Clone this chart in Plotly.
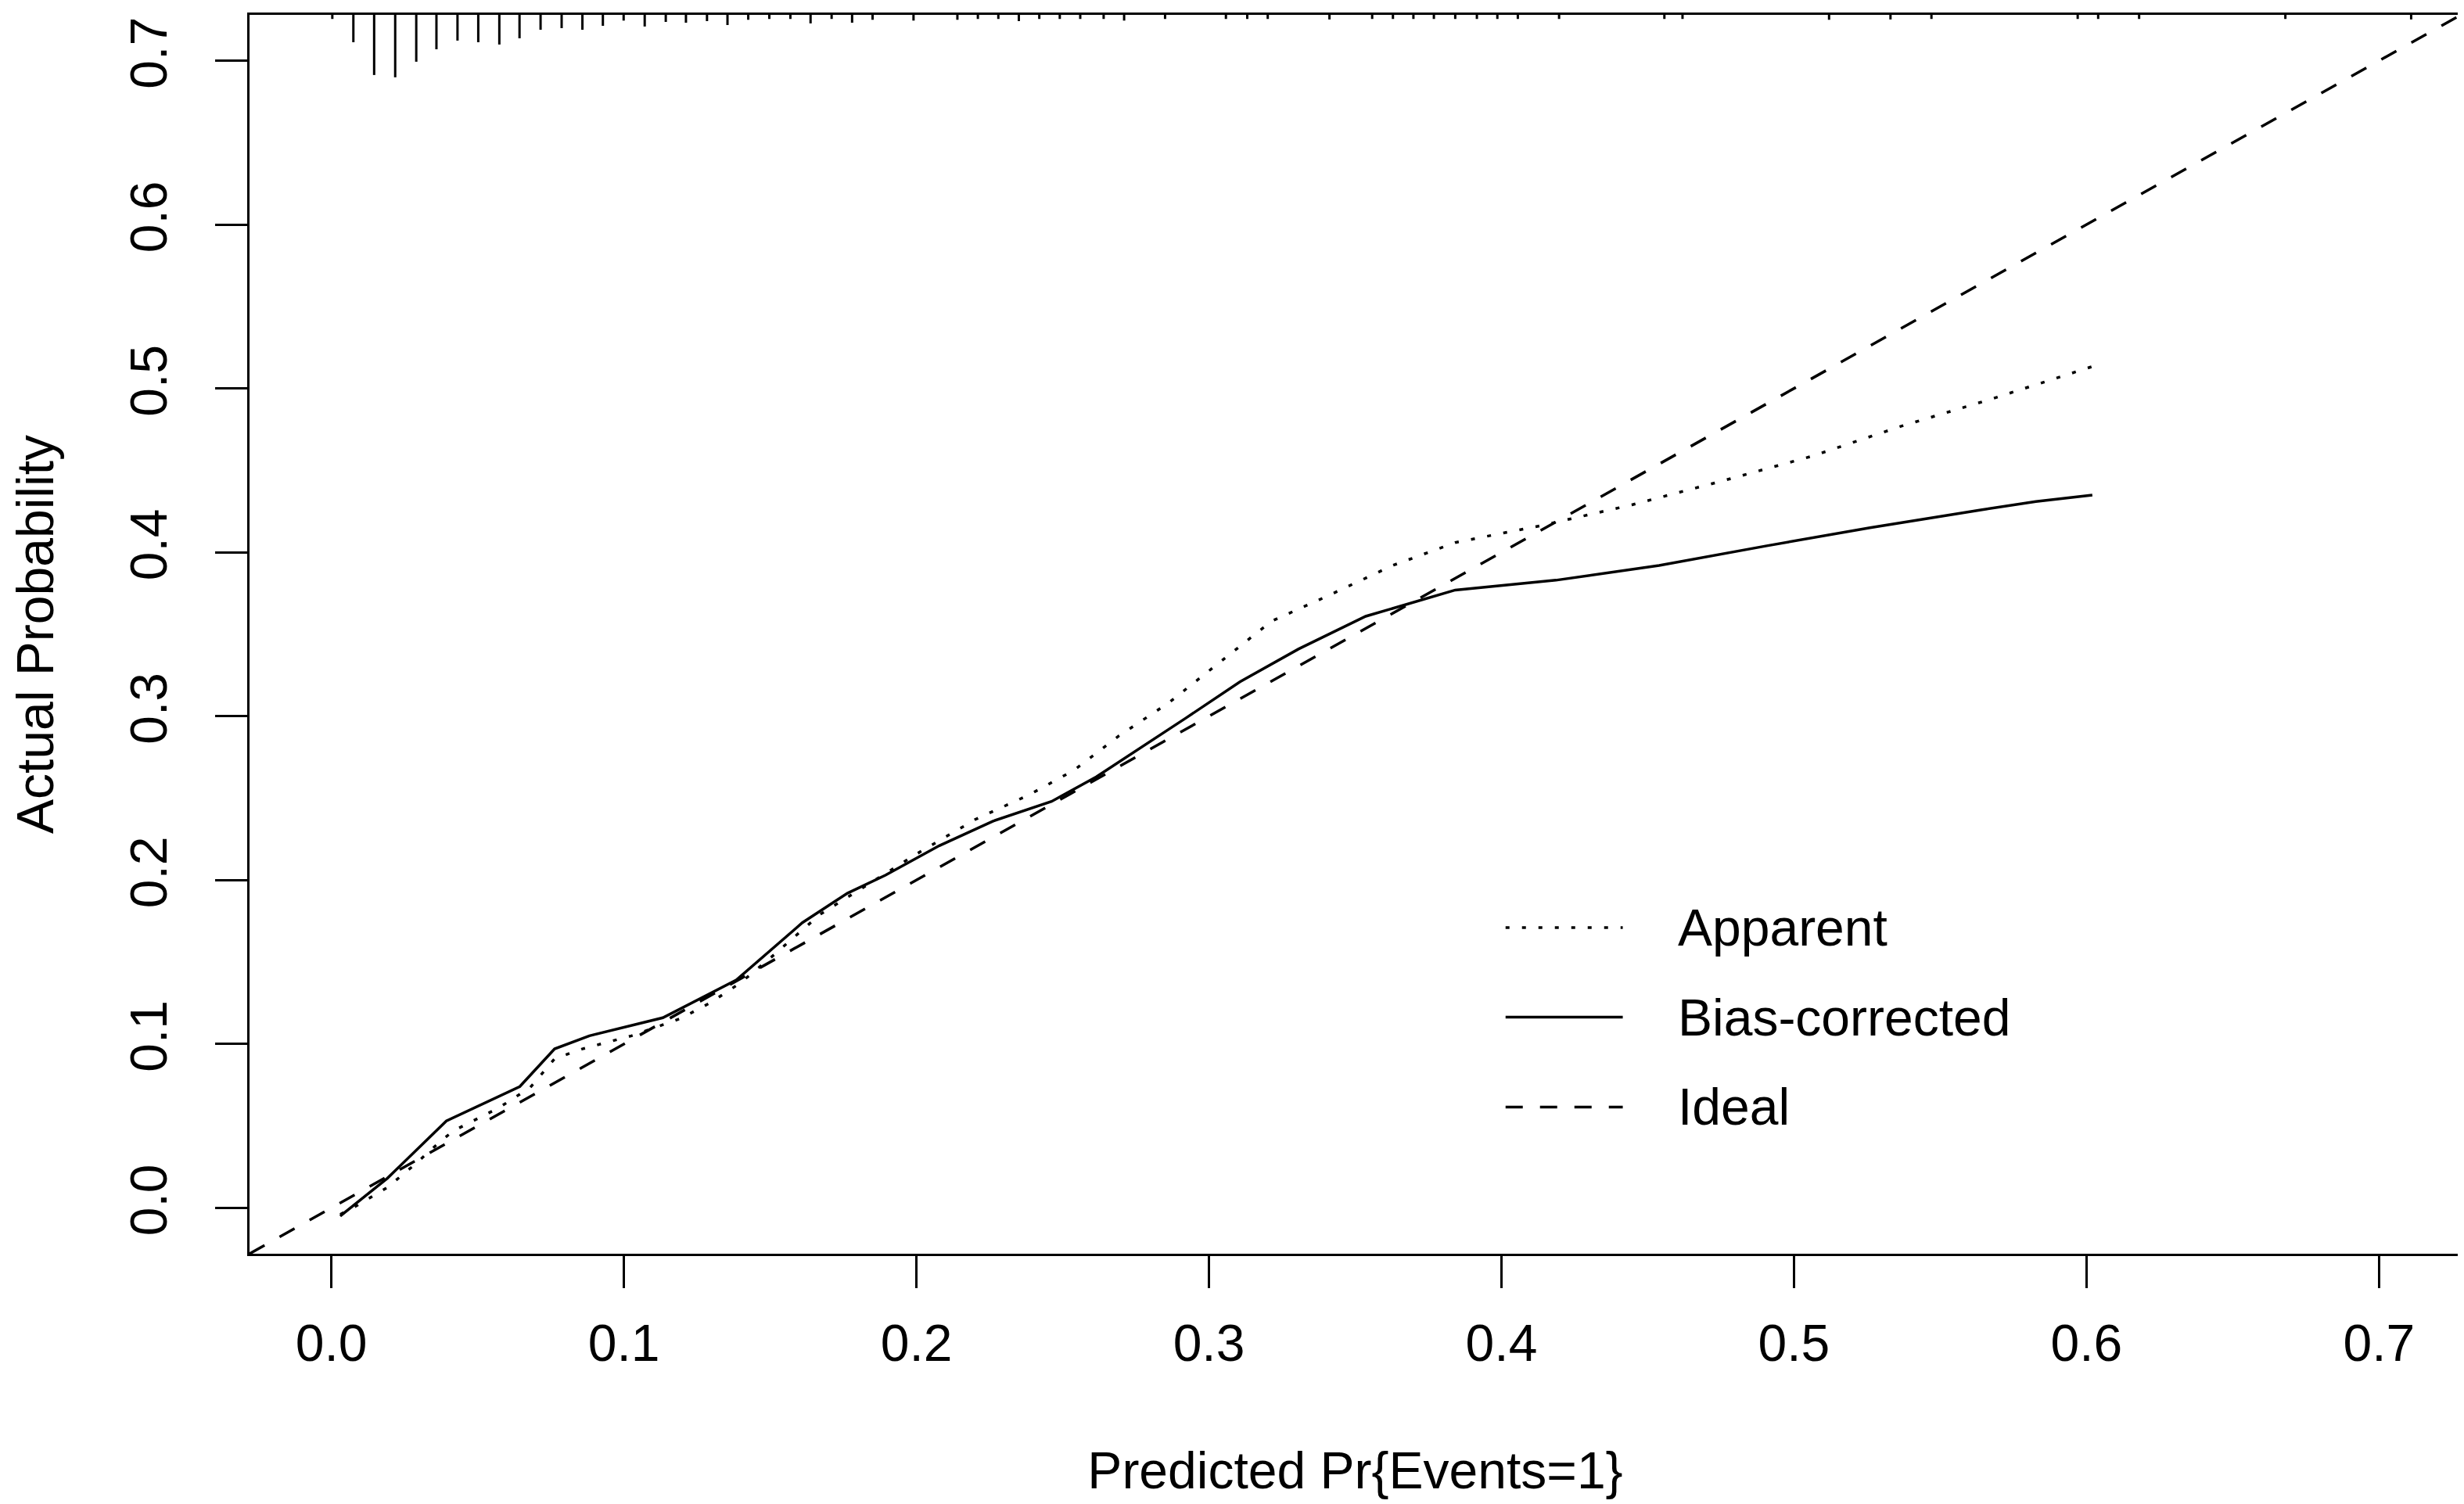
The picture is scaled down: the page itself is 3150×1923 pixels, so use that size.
import plotly.graph_objects as go

# ---------------- data ----------------
x_range = [-0.028, 0.728]
y_range = [-0.028, 0.728]
tick_vals = [0.0, 0.1, 0.2, 0.3, 0.4, 0.5, 0.6, 0.7]
tick_text = ["0.0", "0.1", "0.2", "0.3", "0.4", "0.5", "0.6", "0.7"]

apparent_x = [0.003, 0.0083, 0.0191, 0.0286, 0.0369, 0.0417, 0.0572, 0.068, 0.0763,
              0.0858, 0.1026, 0.1193, 0.1294, 0.1396, 0.1491, 0.1575, 0.167, 0.1894,
              0.2001, 0.2201, 0.2385, 0.2538, 0.2692, 0.2861, 0.303, 0.3214, 0.3413,
              0.3628, 0.3842, 0.414, 0.4446, 0.4753, 0.506, 0.5367, 0.5674, 0.602]
apparent_y = [-0.004, 0.001, 0.0124, 0.0266, 0.040, 0.047, 0.061, 0.0735, 0.091,
              0.097, 0.105, 0.1155, 0.125, 0.137, 0.151, 0.164, 0.179, 0.204,
              0.216, 0.237, 0.252, 0.267, 0.288, 0.308, 0.332, 0.358, 0.374,
              0.392, 0.406, 0.4165, 0.429, 0.4435, 0.4586, 0.477, 0.4935, 0.5134]

bias_x = [0.003, 0.0191, 0.0393, 0.0644, 0.0763, 0.0882, 0.1133, 0.1384, 0.161,
          0.1764, 0.1894, 0.2078, 0.2262, 0.2462, 0.2615, 0.2769, 0.2922, 0.3106,
          0.3306, 0.3536, 0.3689, 0.3842, 0.4186, 0.4539, 0.4907, 0.526, 0.5643,
          0.5827, 0.602]
bias_y = [-0.005, 0.018, 0.053, 0.074, 0.097, 0.105, 0.116, 0.139, 0.174,
          0.192, 0.203, 0.221, 0.236, 0.248, 0.263, 0.281, 0.299, 0.321,
          0.341, 0.361, 0.369, 0.377, 0.383, 0.392, 0.404, 0.415, 0.426,
          0.431, 0.435]

# distribution of predicted probabilities (spike positions and spike heights)
rug_x = [0.0003, 0.0075, 0.0146, 0.0218, 0.0290, 0.0359, 0.0431, 0.0502, 0.0574,
         0.0643, 0.0715, 0.0787, 0.0858, 0.0928, 0.0999, 0.1071, 0.1143, 0.1212,
         0.1284, 0.1354, 0.1425, 0.1497, 0.1569, 0.1638, 0.171, 0.178, 0.185,
         0.199, 0.214, 0.221, 0.228, 0.235, 0.242, 0.249, 0.256, 0.264, 0.271,
         0.285, 0.3058, 0.3131, 0.3201, 0.3412, 0.3558, 0.3629, 0.3699, 0.3769,
         0.3842, 0.3916, 0.3986, 0.4056, 0.4197, 0.4557, 0.4619, 0.512, 0.533,
         0.547, 0.597, 0.604, 0.618, 0.668, 0.711]
rug_len = [0.0025, 0.0167, 0.0367, 0.0381, 0.0286, 0.0210, 0.0157, 0.0167, 0.0181,
           0.0143, 0.0091, 0.0081, 0.0091, 0.0067, 0.0035, 0.0071, 0.0043, 0.0048,
           0.0038, 0.0062, 0.0030, 0.0025, 0.0025, 0.0052, 0.0025, 0.0048, 0.0030,
           0.0035, 0.0030, 0.0025, 0.0025, 0.0038, 0.0025, 0.0025, 0.0025, 0.0025, 0.0035,
           0.0025, 0.0025, 0.0025, 0.0025, 0.0028, 0.0025, 0.0025, 0.0025, 0.0025,
           0.0025, 0.0025, 0.0025, 0.0025, 0.0025, 0.0025, 0.0025, 0.0030, 0.0028,
           0.0025, 0.0025, 0.0025, 0.0025, 0.0025, 0.0028]

legend_names = ["Apparent", "Bias-corrected", "Ideal"]
legend_dash = ["5px,16px", "solid", "22px,22px"]

# ---------------- figure ----------------
FONT = "Liberation Sans, Arial, Helvetica, sans-serif"
LW = 3      # frame / ticks
CW = 3.5    # curves

fig = go.Figure()

# ideal line across the whole plotting region
fig.add_trace(go.Scatter(x=x_range, y=y_range, mode="lines",
                         line=dict(color="black", width=CW, dash=legend_dash[2]),
                         name="Ideal", hoverinfo="skip"))
fig.add_trace(go.Scatter(x=apparent_x, y=apparent_y, mode="lines",
                         line=dict(color="black", width=CW, dash=legend_dash[0]),
                         name="Apparent"))
fig.add_trace(go.Scatter(x=bias_x, y=bias_y, mode="lines",
                         line=dict(color="black", width=CW),
                         name="Bias-corrected"))

# rug of predicted probabilities hanging from the top border
rx, ry = [], []
for xv, lv in zip(rug_x, rug_len):
    rx += [xv, xv, None]
    ry += [y_range[1], y_range[1] - lv, None]
fig.add_trace(go.Scatter(x=rx, y=ry, mode="lines",
                         line=dict(color="black", width=LW), hoverinfo="skip",
                         name="rug"))

# custom legend drawn in an overlay [0,1] coordinate system over the plot area
leg_x0, leg_x1, leg_tx = 0.568, 0.621, 0.6453
leg_rows = [0.2633, 0.1909, 0.1184]
for name, dash, yy in zip(legend_names, legend_dash, leg_rows):
    fig.add_trace(go.Scatter(x=[leg_x0, leg_x1], y=[yy, yy], mode="lines",
                             xaxis="x2", yaxis="y2",
                             line=dict(color="black", width=CW, dash=dash),
                             hoverinfo="skip", name=name))
    fig.add_annotation(x=leg_tx, y=yy, xref="x2", yref="y2", text=name,
                       showarrow=False, xanchor="left", yanchor="middle",
                       font=dict(family=FONT, size=66, color="black"))

axis_common = dict(showgrid=False, zeroline=False, showline=True, linewidth=LW,
                   linecolor="black", mirror=True, ticks="outside", ticklen=41,
                   tickwidth=LW, tickcolor="black", tickvals=tick_vals,
                   ticktext=tick_text,
                   tickfont=dict(family=FONT, size=66, color="black"))

fig.update_layout(
    width=3150, height=1923,
    margin=dict(l=311, r=12, t=8, b=328),
    paper_bgcolor="white", plot_bgcolor="white",
    showlegend=False,
    font=dict(family=FONT, size=66, color="black"),
    xaxis=dict(range=x_range, ticklabelstandoff=14, **axis_common,
               title=dict(text="Predicted Pr{Events=1}", standoff=104,
                          font=dict(family=FONT, size=66, color="black"))),
    yaxis=dict(range=y_range, tickangle=-90, ticklabelstandoff=36, **axis_common,
               title=dict(text="Actual Probability", standoff=82,
                          font=dict(family=FONT, size=66, color="black"))),
    xaxis2=dict(range=[0, 1], overlaying="x", anchor="y2", visible=False),
    yaxis2=dict(range=[0, 1], overlaying="y", anchor="x2", visible=False),
)

fig.write_html("out.html")
